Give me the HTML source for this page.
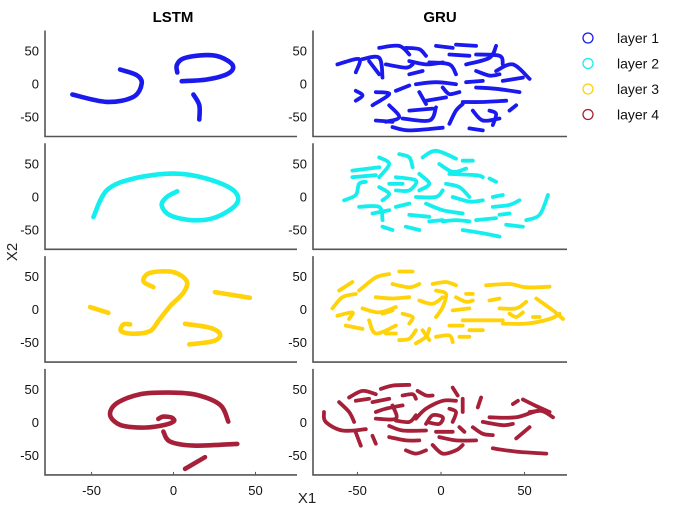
<!DOCTYPE html>
<html><head><meta charset="utf-8"><style>
body{margin:0;background:#fff;}
svg{display:block;font-family:"Liberation Sans",sans-serif;}
</style></head><body>
<svg id="chart" width="679" height="517"></svg>
<script>
const rows = ["layer 1","layer 2","layer 3","layer 4"];
const colors = ["#1a1aee","#14eeee","#ffd20a","#a6203a"];
const yTicks = [50,0,-50];
const xTicks = [-50,0,50];
const lstmLayer1 = [
 [[-61.7,-16.7],[-40.7,-27.9],[-24.5,-20.3],[-19.4,0],[-22.4,12.6],[-32.6,21.2]],
 [[5,3.5],[20.2,6],[33.4,15.2],[36.1,27.7],[28.4,40.3],[18.2,42.9],[6,37.9],[2,27.7],[2.3,16.7]],
 [[12.1,-16.7],[15.7,-32.9],[15.7,-54.5]]];
const lstmLayer2 = [
 [[-48.9,-31.4],[-40.7,9.1],[-24.5,26.8],[-0.1,34.4],[20.2,26.8],[36.5,9.1],[38.5,-11.1],[26.3,-31.4],[12.1,-36.4],[-2.1,-28.8],[-7.2,-13.6],[-4.1,-1],[2.3,7.6]]];
const lstmLayer3 = [
 [[-12.3,33.3],[-18.4,42.4],[-14.3,55],[-0.1,56.1],[8,42.4],[6,24.7],[-2.1,4.5],[-9.3,-18.2],[-14.3,-33.3],[-24.5,-37.4],[-32,-33.3],[-30.6,-23.2],[-26.5,-23.2]],
 [[-50.9,3],[-39.8,-5.6]],
 [[25.3,25.8],[46.6,17.1]],
 [[7,-22.3],[22.3,-28.3],[28.4,-38.3],[24.3,-48.5],[9.6,-53.5]]];
const lstmLayer4 = [
 [[33.4,0.5],[28.4,25.8],[14.1,40.9],[-2.1,44.4],[-20.4,42],[-34.6,28.3],[-38.7,10.6],[-32.6,-4.5],[-20.4,-8.6],[-8.2,-6.1],[-0.1,0.5],[-1.1,6.5],[-6.2,8],[-9.3,4.5]],
 [[-6.2,-14.7],[-2.1,-29.8],[12.1,-35.9],[38.9,-33.3]],
 [[7,-71.2],[19.2,-53.5]]];
const gruLayer1 = [
 [[-62,29],[-49,37],[-51,17]],[[-47,37],[-37,39],[-35,9]],[[-37,54],[-25,57],[-19,44]],[[-21,54],[-13,52],[-9,42]],
 [[-33,29],[-21,24],[-17,29]],[[-19,14],[-11,19]],[[-7,32],[5,29],[9,14]],[[-3,57],[7,54]],[[9,59],[21,57]],
 [[5,44],[17,42]],[[15,29],[29,39],[33,57]],[[21,44],[35,42],[37,29]],[[33,19],[43,29],[53,7]],[[37,4],[49,9]],
 [[-15,-1],[-3,2],[9,-1]],[[15,2],[25,4]],[[21,-6],[33,-8],[47,-13]],[[-9,-26],[3,-21]],[[-27,-11],[-19,-3]],
 [[-39,-13],[-31,-16],[-41,-33]],[[-51,-11],[-47,-18],[-51,-26]],[[-31,-33],[-25,-51],[-33,-58]],
 [[-29,-66],[-19,-71],[1,-67]],[[-23,-53],[-7,-56],[-3,-36]],[[-19,-41],[-5,-38]],[[5,-61],[9,-41],[13,-31]],
 [[17,-68],[25,-71]],[[13,-28],[25,-28],[39,-26]],[[19,-41],[25,-56],[35,-53]],[[29,-41],[33,-46],[31,-63]],
 [[41,-41],[45,-33]],[[-13,-13],[-9,-31]],[[1,-6],[5,-16],[11,-13]],[[-39,-56],[-29,-58]],[[-43,34],[-37,14]],
 [[-19,34],[-9,29],[1,32]],[[21,19],[29,12],[35,14]]];
const gruLayer2 = [
 [[-58,-6],[-51,2],[-49,19],[-45,22]],[[-53,39],[-37,44]],[[-53,29],[-39,32]],[[-49,-16],[-37,-16],[-35,-36]],
 [[-37,59],[-31,49],[-37,29]],[[-25,64],[-19,59],[-17,44]],[[-11,59],[-3,69],[9,57]],[[13,54],[19,54]],
 [[-1,49],[7,37],[15,42]],[[5,34],[21,32],[25,29]],[[29,27],[33,22]],[[-27,29],[-15,24],[-19,9],[-27,9]],
 [[-37,14],[-31,4],[-35,-6]],[[-15,-1],[-3,-1],[1,9]],[[-13,34],[-7,19],[-13,9]],[[3,19],[11,14],[17,-1]],
 [[-9,-11],[1,-21],[13,-26]],[[-19,-28],[-7,-31]],[[-21,-46],[-13,-51]],[[1,-38],[9,-36],[17,-38]],
 [[13,-51],[25,-56],[35,-61]],[[21,-36],[33,-33]],[[31,-16],[41,-13],[47,-6]],[[35,-28],[41,-26]],
 [[39,-43],[49,-46]],[[51,-36],[59,-28],[64,2]],[[7,-1],[17,-8],[25,-6]],[[-41,-26],[-31,-21]],
 [[-35,-46],[-29,-51]],[[-27,-16],[-19,-11]],[[-31,19],[-23,19]],[[31,-1],[37,2]],[[-7,-38],[1,-36]]];
const gruLayer3 = [
 [[-61,28],[-53,41]],[[-65,1],[-59,18],[-51,23]],[[-62,-10],[-53,-5],[-55,-15]],[[-57,-25],[-47,-30]],
 [[-49,28],[-39,48],[-31,53]],[[-25,57],[-17,57]],[[-47,1],[-37,-5],[-27,3]],[[-43,-17],[-39,-37],[-27,-25]],
 [[-39,18],[-29,16],[-19,18]],[[-29,38],[-19,33],[-13,38]],[[-33,-37],[-27,-37]],[[-25,-47],[-19,-45],[-15,-32]],
 [[-15,-52],[-9,-42],[-7,-30]],[[-23,-7],[-17,-12],[-19,-22]],[[-13,13],[-5,8],[1,18]],[[-5,38],[3,41],[9,36]],
 [[-3,28],[3,23],[1,3],[-3,-12]],[[7,-2],[17,1]],[[9,18],[15,11],[19,13]],[[15,23],[19,23]],
 [[27,36],[41,38],[51,33],[65,34]],[[29,13],[35,16]],[[35,1],[45,1],[51,11]],[[13,-17],[25,-17],[37,-17]],
 [[37,-22],[51,-22],[65,-15],[71,-7]],[[57,16],[67,-2],[73,-15]],[[17,-32],[25,-32]],[[-3,-42],[5,-40],[7,-50]],
 [[11,-42],[17,-42]],[[-11,-32],[-7,-47]],[[5,-25],[13,-25]],[[-35,-7],[-29,-2]],[[41,-7],[45,-12],[49,-5]],
 [[55,-12],[59,-12]]];
const gruLayer4 = [
 [[-70,15],[-69,0],[-59,-13],[-45,-11]],[[-61,30],[-55,15],[-52,0]],[[-55,37],[-47,47],[-39,42]],[[-51,32],[-43,35]],
 [[-36,50],[-29,55],[-19,56]],[[-51,-16],[-48,-36]],[[-41,-21],[-39,-33]],[[-41,30],[-31,35]],
 [[-39,15],[-33,20],[-23,25]],[[-39,5],[-27,5],[-29,25]],[[-23,40],[-17,42],[-15,35]],[[-14,47],[-9,40],[-5,40]],
 [[-31,-6],[-23,-13],[-9,-13]],[[-31,-23],[-21,-28],[-13,-28]],[[-21,-43],[-15,-48],[-9,-43]],
 [[-27,2],[-19,0],[-15,10]],[[-15,5],[-9,20],[1,32],[9,32]],[[-9,-3],[-5,10],[1,7],[-1,-3],[-7,-1]],
 [[-5,-35],[1,-48],[9,-43],[13,-35]],[[-1,-23],[9,-28],[21,-28]],[[-3,-15],[7,-15]],[[7,52],[10,40]],
 [[5,20],[9,15],[7,0]],[[13,35],[13,15]],[[24,37],[22,22]],[[11,-8],[14,-15]],[[19,-8],[25,-18],[31,-20]],
 [[25,0],[37,-5],[43,-3]],[[29,7],[45,7],[59,17],[67,7]],[[43,27],[46,32]],[[49,34],[57,24],[65,15]],
 [[31,-40],[45,-45],[63,-48]],[[45,-25],[53,-8]],[[53,15],[59,17]]];

const NS="http://www.w3.org/2000/svg";
const svg=document.getElementById('chart');
function mk(tag,attrs,parent){const e=document.createElementNS(NS,tag);for(const k in attrs)e.setAttribute(k,attrs[k]);(parent||svg).appendChild(e);return e;}
const cols=[{x0:45,x1:297,d0:-78.4,d1:75.3},{x0:313,x1:567,d0:-76.6,d1:75.4}];
const PH=106, YR=80.3;
function rowTop(i){return 30.5+112.8*i;}
function xs(c,v){const C=cols[c];return C.x0+(v-C.d0)/(C.d1-C.d0)*(C.x1-C.x0);}
function ys(r,v){return rowTop(r)+PH/2-v/YR*(PH/2);}
function smooth(P){
  if(P.length<3) return 'M'+P.map(p=>p[0].toFixed(1)+' '+p[1].toFixed(1)).join(' L');
  let d='M'+P[0][0].toFixed(1)+' '+P[0][1].toFixed(1);
  for(let i=0;i<P.length-1;i++){
    const p0=P[Math.max(0,i-1)],p1=P[i],p2=P[i+1],p3=P[Math.min(P.length-1,i+2)];
    const c1=[p1[0]+(p2[0]-p0[0])/6,p1[1]+(p2[1]-p0[1])/6];
    const c2=[p2[0]-(p3[0]-p1[0])/6,p2[1]-(p3[1]-p1[1])/6];
    d+=` C${c1[0].toFixed(1)} ${c1[1].toFixed(1)} ${c2[0].toFixed(1)} ${c2[1].toFixed(1)} ${p2[0].toFixed(1)} ${p2[1].toFixed(1)}`;
  }
  return d;
}
const data=[[lstmLayer1,gruLayer1],[lstmLayer2,gruLayer2],[lstmLayer3,gruLayer3],[lstmLayer4,gruLayer4]];

for(let r=0;r<4;r++){for(let c=0;c<2;c++){
  const g=mk('g',{});
  
  
  const top=rowTop(r),bot=top+PH,C=cols[c];
  const ax=mk('path',{d:`M${C.x0} ${top} V${bot} H${C.x1}`,fill:'none',stroke:'#555',"stroke-width":1.6},g);
  
  
  yTicks.forEach(t=>{
    const tl=mk('text',{x:C.x0-6,y:ys(r,t)+5,"text-anchor":"end","font-size":13,fill:'#111'},g);
    tl.textContent=t;
    
    
  });
  if(r===3){xTicks.forEach(t=>{
    const tk=mk('line',{x1:xs(c,t),x2:xs(c,t),y1:bot,y2:bot-3,stroke:'#555'},g);
    
    
    const tl=mk('text',{x:xs(c,t),y:bot+20,"text-anchor":"middle","font-size":13,fill:'#111'},g);
    tl.textContent=t;
    
    
  });}
  data[r][c].forEach(seg=>{
    const P=seg.map(q=>[xs(c,q[0]),ys(r,q[1])]);
    const p=mk('path',{d:smooth(P),fill:'none',stroke:colors[r],"stroke-width":c?3.8:4.6,"stroke-linecap":"round","stroke-linejoin":"round"},g);
    
    
  });
}}
function txt(x,y,s,attrs,name){const t=mk('text',Object.assign({x:x,y:y},attrs));t.textContent=s;return t;}
txt(173,22,'LSTM',{"text-anchor":"middle","font-size":15,"font-weight":"bold"},'lstm-title');
txt(440,22,'GRU',{"text-anchor":"middle","font-size":15,"font-weight":"bold"},'gru-title');
txt(307,503,'X1',{"text-anchor":"middle","font-size":15,fill:'#222'},'x-axis-title');
txt(0,0,'X2',{"text-anchor":"middle","font-size":15,fill:'#222',transform:'translate(17,252) rotate(-90)'},'y-axis-title');
rows.forEach((name,i)=>{
  const y=38+25.5*i;
  const c=mk('circle',{cx:588,cy:y,r:5,fill:'none',stroke:colors[i],"stroke-width":1.3});
  
  
  txt(617,y+5,name,{"font-size":14,fill:'#111'},'legend-entry');
});
</script>
</body></html>
